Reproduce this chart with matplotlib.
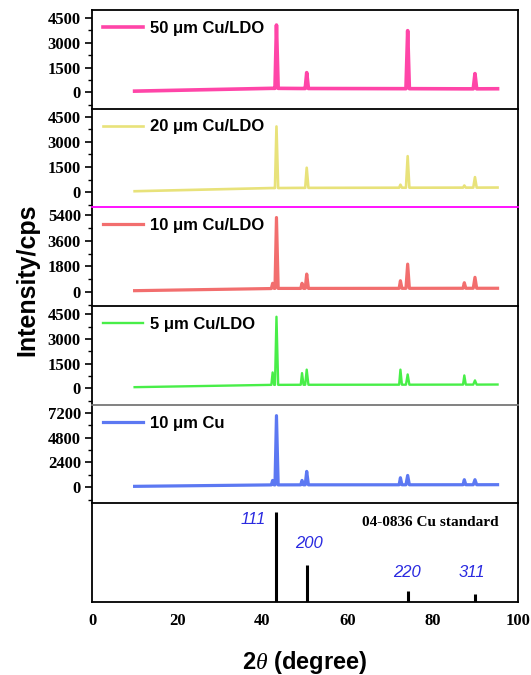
import matplotlib
matplotlib.use('Agg')
import matplotlib.pyplot as plt
from matplotlib.ticker import MultipleLocator

plt.rcParams['mathtext.fontset'] = 'custom'
plt.rcParams['mathtext.it'] = 'Liberation Serif:italic'

# 2theta grid shared by all patterns (baseline + peak points)
two_theta = [10, 42.1, 42.4, 42.75, 42.95, 43.3, 43.7,
             49.0, 49.3, 49.65, 50.05, 50.4, 50.8,
             72.1, 72.4, 72.75, 73.7, 74.1, 74.5,
             87.1, 87.4, 87.75, 89.5, 89.9, 90.3, 95.2]

cu_ldo_50 = [80, 250, 250, 250, 250, 4080, 250, 240, 240, 240, 240, 1200, 240,
             230, 230, 230, 230, 3740, 230, 220, 220, 220, 220, 1140, 220, 225]
cu_ldo_20 = [60, 250, 250, 250, 250, 3920, 250, 260, 260, 260, 260, 1460, 260,
             270, 450, 270, 270, 2150, 270, 275, 400, 275, 275, 900, 275, 280]
cu_ldo_10 = [90, 240, 610, 250, 250, 5240, 250, 250, 610, 250, 250, 1260, 250,
             255, 790, 255, 255, 1960, 255, 260, 650, 260, 260, 1030, 260, 260]
cu_ldo_5 = [80, 220, 970, 220, 220, 4340, 220, 225, 930, 225, 225, 1140, 225,
            230, 1140, 230, 230, 850, 230, 235, 790, 235, 235, 490, 235, 240]
cu_10 = [100, 240, 670, 240, 240, 6910, 240, 245, 670, 245, 245, 1540, 245,
         250, 930, 250, 250, 1150, 250, 255, 740, 255, 255, 740, 255, 260]

labels = ['50 μm Cu/LDO', '20 μm Cu/LDO', '10 μm Cu/LDO', '5 μm Cu/LDO', '10 μm Cu']
colors = ['#FF45A8', '#E8E27A', '#F26E6E', '#48EE48', '#5C78F2']
widths = [2.6, 1.9, 2.3, 1.7, 2.3]
yticks = [[0, 1500, 3000, 4500], [0, 1500, 3000, 4500], [0, 1800, 3600, 5400],
          [0, 1500, 3000, 4500], [0, 2400, 4800, 7200]]
ylims = [(-980, 4990), (-900, 4980), (-990, 5960), (-980, 4990), (-1540, 7970)]
top_spine = ['black', 'black', '#FF00FF', 'black', '#777777']

# JCPDS 04-0836 Cu standard
std_pos = [43.3, 50.4, 74.1, 89.9]
std_int = [100, 41, 12, 9]
std_hkl = ['111', '200', '220', '311']

fig = plt.figure(figsize=(5.31, 6.75), dpi=100)
gs = fig.add_gridspec(6, 1, left=0.1733, right=0.9755, top=0.9852, bottom=0.1081, hspace=0)
axes = [fig.add_subplot(gs[i]) for i in range(6)]

series = [cu_ldo_50, cu_ldo_20, cu_ldo_10, cu_ldo_5, cu_10]
for i, ax in enumerate(axes[:5]):
    ax.plot(two_theta, series[i], color=colors[i], lw=widths[i], label=labels[i],
            solid_joinstyle='round')
    ax.set_xlim(0, 100)
    ax.set_ylim(*ylims[i])
    ax.set_yticks(yticks[i])
    ax.yaxis.set_minor_locator(MultipleLocator(yticks[i][1] / 2))
    ax.tick_params(axis='y', which='major', direction='out', length=5, width=1.2, pad=3)
    ax.tick_params(axis='y', which='minor', direction='out', length=3, width=1.0)
    ax.tick_params(axis='x', bottom=False, labelbottom=False)
    for lab in ax.get_yticklabels():
        lab.set_fontfamily('Liberation Serif')
        lab.set_fontweight('bold')
        lab.set_fontsize(12)
    ax.spines['bottom'].set_visible(False)
    for s in ['left', 'right', 'top']:
        ax.spines[s].set_linewidth(1.3)
    ax.spines['top'].set_color(top_spine[i])
    leg = ax.legend(loc='upper left', frameon=False, handlelength=2.4, handletextpad=0.4,
                    borderaxespad=0.35, borderpad=0.3,
                    prop={'family': 'Liberation Sans', 'weight': 'bold', 'size': 12})

# standard pattern panel
ax = axes[5]
ax.vlines(std_pos, 0, std_int, color='black', lw=2.2)
ax.set_xlim(0, 100)
ax.set_ylim(0, 110)
ax.set_yticks([])
ax.set_xticks([0, 20, 40, 60, 80, 100])
ax.tick_params(axis='x', length=0, pad=8)
for lab in ax.get_xticklabels():
    lab.set_fontfamily('Liberation Serif')
    lab.set_fontweight('bold')
    lab.set_fontsize(12)
for s in ax.spines.values():
    s.set_linewidth(1.3)
hkl_xy = [(37.8, 92), (50.9, 65), (74.0, 33), (89.2, 33)]
for (hx, hy), t in zip(hkl_xy, std_hkl):
    ax.text(hx, hy, t, color='#2A2AE0', style='italic', fontsize=12,
            family='Liberation Sans', ha='center', va='center')
ax.text(95.5, 89, '04-0836 Cu standard', family='Liberation Serif', weight='bold',
        fontsize=11, ha='right', va='center')

fig.text(0.051, 0.585, 'Intensity/cps', rotation=90, ha='center', va='center',
         family='Liberation Sans', weight='bold', fontsize=18)
fig.text(0.574, 1 - 663 / 675, r'2$\mathit{\theta}$ (degree)', ha='center', va='center',
         family='Liberation Sans', weight='bold', fontsize=17)

fig.savefig('out.png', dpi=100)
